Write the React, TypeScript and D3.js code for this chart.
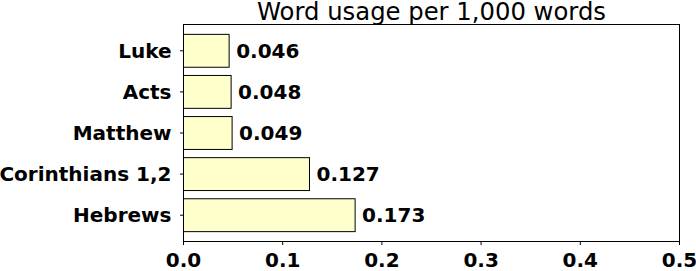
import React from "react";
import * as d3 from "d3";

const books = ["Hebrews", "Corinthians 1,2", "Matthew", "Acts", "Luke"];
const usage = [0.173, 0.127, 0.049, 0.048, 0.046];
const xTicks = [0.0, 0.1, 0.2, 0.3, 0.4, 0.5];
const title = "Word usage per 1,000 words";

const W = 696;
const H = 271;
const m = { left: 183.5, right: 679.5, top: 24.5, bottom: 241.5 };
const font = "DejaVu Sans, sans-serif";
const labelSize = 20;

export default function App() {
  const x = d3.scaleLinear().domain([0, 0.5]).range([m.left, m.right]);
  // categories are placed at 0..n-1 from the bottom, bar height 0.8, 5% margins
  const n = books.length;
  const lo = -0.4 - 0.05 * (n - 1 + 0.8);
  const hi = n - 1 + 0.4 + 0.05 * (n - 1 + 0.8);
  const y = d3.scaleLinear().domain([lo, hi]).range([m.bottom, m.top]);
  const bh = Math.abs(y(0.8) - y(0));

  return (
    <svg
      width={W}
      height={H}
      style={{ position: "absolute", left: 0, top: 0 }}
      fontFamily={font}
    >
      <rect x={0} y={0} width={W} height={H} fill="white" />
      <text x={(m.left + m.right) / 2} y={20} textAnchor="middle" fontSize={24.3}>
        {title}
      </text>
      {books.map((b, i) => (
        <g key={b}>
          <rect
            x={x(0)}
            y={y(i) - bh / 2}
            width={x(usage[i]) - x(0)}
            height={bh}
            fill="#ffffcc"
            stroke="black"
            strokeWidth={1}
          />
          <text
            x={x(usage[i]) + 7}
            y={y(i)}
            dy="0.35em"
            fontSize={labelSize}
            fontWeight="bold"
          >
            {usage[i].toFixed(3)}
          </text>
          <line x1={m.left - 3.5} x2={m.left} y1={y(i)} y2={y(i)} stroke="black" />
          <text
            x={m.left - 12}
            y={y(i)}
            dy="0.35em"
            textAnchor="end"
            fontSize={labelSize}
            fontWeight="bold"
          >
            {b}
          </text>
        </g>
      ))}
      <rect
        x={m.left}
        y={m.top}
        width={m.right - m.left}
        height={m.bottom - m.top}
        fill="none"
        stroke="black"
        strokeWidth={1}
      />
      {xTicks.map((t) => (
        <g key={t}>
          <line x1={x(t)} x2={x(t)} y1={m.bottom} y2={m.bottom + 3.5} stroke="black" />
          <text
            x={x(t)}
            y={m.bottom + 25}
            textAnchor="middle"
            fontSize={labelSize}
            fontWeight="bold"
          >
            {t.toFixed(1)}
          </text>
        </g>
      ))}
    </svg>
  );
}
